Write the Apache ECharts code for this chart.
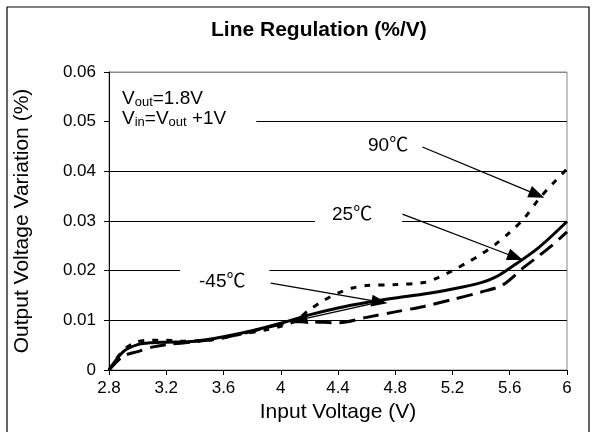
<!DOCTYPE html>
<html>
<head>
<meta charset="utf-8">
<script src="https://cdn.jsdelivr.net/npm/echarts@6/dist/echarts.min.js"></script>
<style>
  html, body { margin: 0; padding: 0; background: #fff; }
  #chart { width: 595px; height: 432px; }
</style>
</head>
<body>
<div id="chart"></div>
<script>
  // 25℃ - solid
  var vin25 = [2.8, 2.9, 3.0, 3.1, 3.2, 3.4, 3.6, 3.8, 4.0, 4.2, 4.4, 4.6, 4.8, 5.0, 5.2, 5.4, 5.5, 5.6, 5.8, 6.0];
  var var25 = [0, 0.0037, 0.0051, 0.0055, 0.0056, 0.0058, 0.0067, 0.0079, 0.0094, 0.0111, 0.0125, 0.0136, 0.0145, 0.0153, 0.0163, 0.0176, 0.0187, 0.0205, 0.0246, 0.0299];
  // 90℃ - short dashes
  var vin90 = [2.8, 2.9, 3.0, 3.1, 3.2, 3.3, 3.5, 3.7, 3.9, 4.0, 4.1, 4.2, 4.3, 4.4, 4.5, 4.6, 4.8, 5.0, 5.1, 5.2, 5.3, 5.4, 5.5, 5.6, 5.7, 5.8, 5.9, 6.0];
  var var90 = [0, 0.004, 0.0057, 0.006, 0.006, 0.0058, 0.006, 0.0071, 0.0081, 0.0088, 0.0099, 0.0121, 0.014, 0.0155, 0.0165, 0.017, 0.0172, 0.0176, 0.0186, 0.02, 0.0216, 0.0233, 0.0253, 0.0277, 0.0305, 0.0343, 0.0375, 0.0405];
  // -45℃ - long dashes
  var vinM45 = [2.8, 2.9, 3.0, 3.1, 3.2, 3.4, 3.6, 3.8, 4.0, 4.1, 4.2, 4.4, 4.6, 4.8, 5.0, 5.2, 5.4, 5.55, 5.7, 5.8, 5.9, 6.0];
  var varM45 = [0, 0.0028, 0.0037, 0.0046, 0.0051, 0.0057, 0.0065, 0.0078, 0.0092, 0.0097, 0.0097, 0.0095, 0.0106, 0.0117, 0.0128, 0.0142, 0.0157, 0.0171, 0.0207, 0.0229, 0.0252, 0.0278];

  // annotation arrows (data coords): [fromX, fromY, toX, toY]
  var arrows = [
    [4.99, 0.0449, 5.79, 0.0353],
    [4.85, 0.0314, 5.64, 0.0227],
    [3.93, 0.0175, 4.69, 0.0137],
    [4.68, 0.0136, 4.13, 0.0101]
  ];

  function zip(xs, ys) {
    var out = []
    for (var i = 0; i < xs.length; i++) {
      out.push([xs[i], ys[i]])
    }
    return out
  }

  var font = "'Liberation Sans', Arial, 'Noto Sans CJK SC', sans-serif";
  var chart = echarts.init(document.getElementById('chart'));

  var lineSeries = function (name, data, dash) {
    return {
      name: name,
      type: 'line',
      data: data,
      smooth: 0.3,
      showSymbol: false,
      lineStyle: { color: '#000', width: 3, type: dash },
      z: 3
    }
  };

  chart.setOption({
    animation: false,
    backgroundColor: '#fff',
    grid: {
      left: 109, right: 28, top: 72, bottom: 62,
      show: true, borderColor: '#888', borderWidth: 1
    },
    xAxis: {
      type: 'value',
      min: 2.8, max: 6, interval: 0.4,
      name: 'Input Voltage (V)',
      nameLocation: 'middle',
      nameGap: 31,
      nameTextStyle: { fontFamily: font, fontSize: 21, color: '#000' },
      axisLine: { lineStyle: { color: '#000', width: 1 } },
      axisTick: { show: true, length: 5, lineStyle: { color: '#000' } },
      axisLabel: {
        fontFamily: font, fontSize: 17, color: '#000', margin: 10,
        formatter: function (v) { return String(+v.toFixed(1)) }
      },
      splitLine: { show: false }
    },
    yAxis: {
      type: 'value',
      min: 0, max: 0.06, interval: 0.01,
      name: 'Output Voltage Variation (%)',
      nameLocation: 'middle',
      nameGap: 76,
      nameTextStyle: { fontFamily: font, fontSize: 21, color: '#000' },
      axisLine: { show: true, lineStyle: { color: '#000', width: 1 } },
      axisTick: { show: true, length: 5, lineStyle: { color: '#000' } },
      axisLabel: {
        fontFamily: font, fontSize: 17, color: '#000', margin: 13,
        formatter: function (v) { return String(+v.toFixed(2)) }
      },
      splitLine: {
        show: true,
        lineStyle: { color: ['#000', '#000', '#000', '#000', '#000', '#000', '#888'], width: 1 }
      }
    },
    series: [
      lineSeries('25℃', zip(vin25, var25), 'solid'),
      lineSeries('90℃', zip(vin90, var90), [6, 8]),
      lineSeries('-45℃', zip(vinM45, varM45), [16, 8]),
      {
        name: 'arrows',
        type: 'line',
        data: [],
        z: 12,
        markLine: {
          silent: true,
          animation: false,
          symbol: ['none', 'triangle'],
          symbolSize: [12, 16],
          label: { show: false },
          lineStyle: { color: '#000', width: 1.3, type: 'solid' },
          data: arrows.map(function (a) {
            return [{ coord: [a[0], a[1]] }, { coord: [a[2], a[3]] }]
          })
        }
      }
    ],
    graphic: [
      {
        type: 'rect', z: 0, silent: true,
        shape: { x: 7, y: 7, width: 582, height: 430 },
        style: { fill: 'none', stroke: '#000', lineWidth: 1.2 }
      },
      {
        type: 'text', left: 211, top: 20, z: 10,
        style: { text: 'Line Regulation (%/V)', font: 'bold 21px ' + font, fill: '#000' }
      },
      {
        type: 'text', z: 10, x: 110, y: 87,
        style: {
          text: '{v|V}{s|out}{v|=1.8V}\n{v|V}{s|in}{v|=V}{s|out}{v| +1V}',
          fill: '#000',
          backgroundColor: '#fff',
          padding: [2, 30, 4, 12],
          rich: {
            v: { fontFamily: font, fontSize: 19, lineHeight: 20, fill: '#000' },
            s: { fontFamily: font, fontSize: 13, lineHeight: 20, fill: '#000', verticalAlign: 'bottom' }
          }
        }
      },
      {
        type: 'text', z: 10, x: 364, y: 134,
        style: { text: '90℃', font: '19px ' + font, fill: '#000', backgroundColor: '#fff', padding: [2, 4] }
      },
      {
        type: 'text', z: 10, x: 315, y: 203,
        style: { text: '25℃', font: '19px ' + font, fill: '#000', backgroundColor: '#fff', padding: [2, 30, 6, 17] }
      },
      {
        type: 'text', z: 10, x: 180, y: 266,
        style: { text: '-45℃', font: '19px ' + font, fill: '#000', backgroundColor: '#fff', padding: [6, 24, 2, 19] }
      }
    ]
  });
</script>
</body>
</html>
